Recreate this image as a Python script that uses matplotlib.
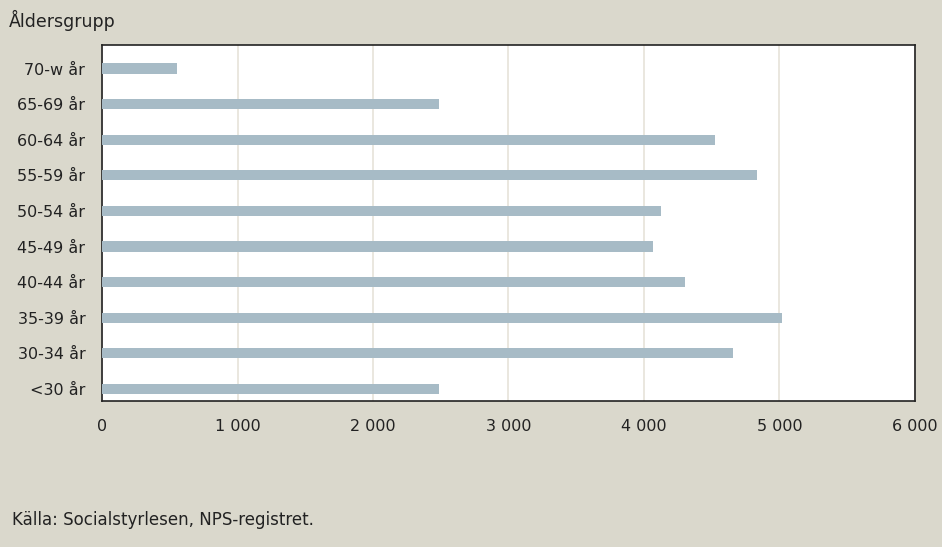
import matplotlib
matplotlib.use("Agg")
import matplotlib.pyplot as plt
from matplotlib.ticker import FuncFormatter

# antal per åldersgrupp, nedifrån och upp
age_groups = ["<30 år", "30-34 år", "35-39 år", "40-44 år", "45-49 år",
              "50-54 år", "55-59 år", "60-64 år", "65-69 år", "70-w år"]
counts = [2484, 4659, 5017, 4304, 4065, 4124, 4835, 4523, 2489, 557]
x_ticks = [0, 1000, 2000, 3000, 4000, 5000, 6000]

bg = "#dad8cc"
bar_color = "#a7bbc6"
grid_color = "#e6e3d9"

plt.rcParams["font.family"] = ["DejaVu Sans"]

fig = plt.figure(figsize=(9.42, 5.47), dpi=100, facecolor=bg)
ax = fig.add_axes([0.1083, 0.2669, 0.8630, 0.6508])
ax.set_facecolor("white")

ypos = list(range(len(age_groups)))
ax.barh(ypos, counts, height=0.29, color=bar_color, zorder=3)

ax.set_xlim(0, 6000)
ax.set_ylim(-0.34, 9.66)
ax.set_xticks(x_ticks)
ax.xaxis.set_major_formatter(FuncFormatter(lambda v, p: f"{int(v):,}".replace(",", " ")))
ax.set_yticks(ypos)
ax.set_yticklabels(age_groups)

ax.grid(axis="x", color=grid_color, linewidth=1.2, zorder=0)
ax.tick_params(axis="both", length=0, labelsize=11.5, colors="#222222")
ax.tick_params(axis="x", pad=13)
ax.tick_params(axis="y", pad=12)

for s in ax.spines.values():
    s.set_color("#222222")
    s.set_linewidth(1.2)

fig.text(9 / 942, 1 - 20 / 547, "Åldersgrupp", fontsize=12.5, color="#222222", va="center")
fig.text(12 / 942, 1 - 520 / 547, "Källa: Socialstyrlesen, NPS-registret.",
         fontsize=12, color="#222222", va="center")

fig.savefig("out.png", dpi=100, facecolor=bg)
